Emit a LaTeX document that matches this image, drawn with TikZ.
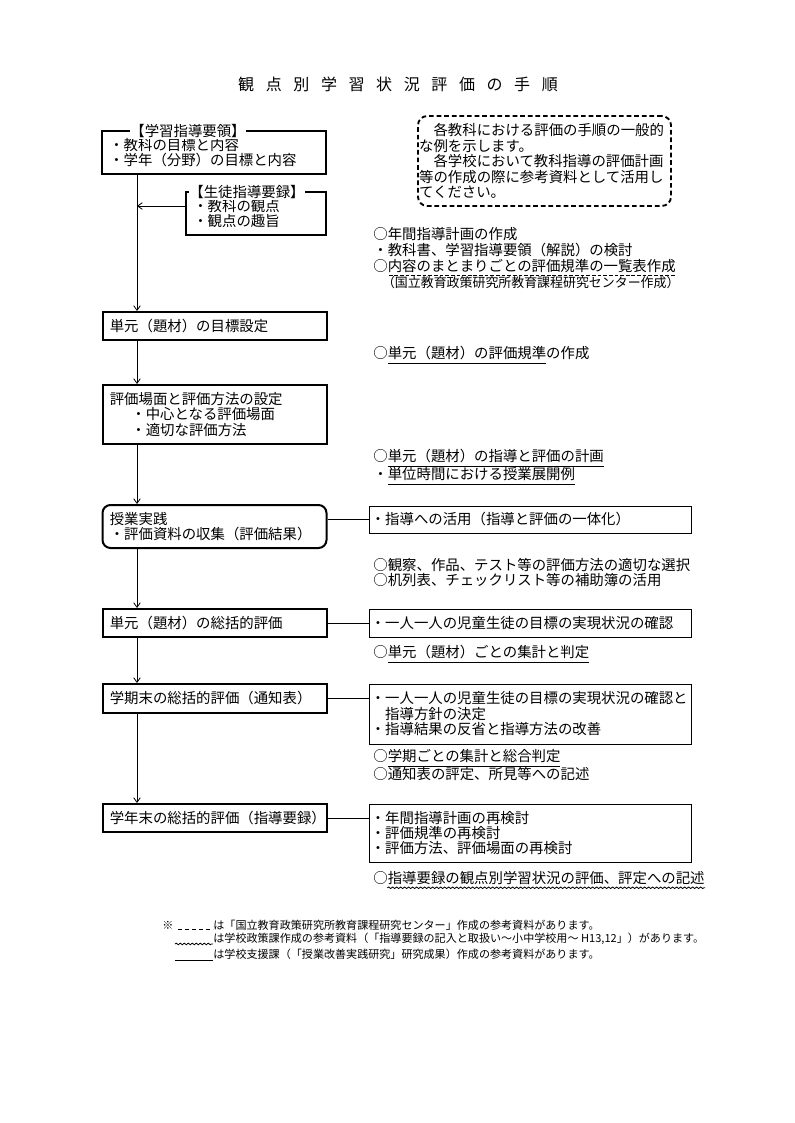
\documentclass[tikz,border=0pt]{standalone}
\usepackage{fontspec}
\setmainfont{Noto Sans CJK JP}
\usetikzlibrary{arrows.meta,decorations.pathmorphing}
\newcommand{\tsp}{\hspace{8.7pt}}
\newsavebox{\ubox}
\newcommand{\lineunder}[1]{\sbox\ubox{#1}\rlap{\raisebox{-3.4pt}{\rule{\wd\ubox}{0.6pt}}}\usebox\ubox}
\newcommand{\dashunder}[1]{\sbox\ubox{#1}\rlap{\raisebox{-3.4pt}{\hbox to \wd\ubox{\xleaders\hbox to 4.2pt{\hss\vrule width 2.8pt height 0.6pt depth 0pt\hss}\hfill}}}\usebox\ubox}
\tikzset{
	stepbox/.style={draw,line width=1.5pt,minimum width=168pt,text width=157pt,inner xsep=5.5pt,align=left},
	notebox/.style={draw,line width=0.7pt,text width=239.5pt,inner xsep=1pt,align=left},
	guidebox/.style={draw,line width=1.4pt,dash pattern=on 3.5pt off 2.2pt,rounded corners=7pt,text width=188pt,inner xsep=0.9pt,align=left},
	boxtitle/.style={fill=white,inner xsep=0pt,inner ysep=1pt},
	memo/.style={anchor=west,inner sep=0pt,align=left,font=\fontsize{10.8pt}{11.8pt}\selectfont},
	footline/.style={anchor=west,inner sep=0pt,font=\fontsize{8.3pt}{10pt}\selectfont},
	wave/.style={decorate,decoration={snake,amplitude=0.6pt,segment length=3pt}}
}
\begin{document}
\begin{tikzpicture}[x=0.75pt,y=-0.75pt,line width=0.6pt,font=\fontsize{10.8pt}{11.6pt}\selectfont,>={Straight Barb[length=3.5pt,width=5pt]}]
	\fill[color=white] (0,0) rectangle (794,1123);
	\node (title) at (398,84) {\fontsize{12pt}{14pt}\selectfont 観\tsp 点\tsp 別\tsp 学\tsp 習\tsp 状\tsp 況\tsp 評\tsp 価\tsp の\tsp 手\tsp 順};
	% left column
	\node[stepbox,minimum height=32.25pt] (aims) at (214,152.5) {・教科の目標と内容\\・学年（分野）の目標と内容};
	\node[boxtitle] (aimstitle) at (188,131) {【学習指導要領】};
	\node[stepbox,minimum width=105pt,text width=94pt,minimum height=32.25pt] (record) at (256,213.5) {・教科の観点\\・観点の趣旨};
	\node[boxtitle] (recordtitle) at (247,192) {【生徒指導要録】};
	\node[stepbox,minimum height=21pt] (unitgoal) at (214.5,326) {単元（題材）の目標設定};
	\node[stepbox,minimum height=44.25pt] (method) at (214.5,414.5) {評価場面と評価方法の設定\\\hspace*{1.5em}・中心となる評価場面\\\hspace*{1.5em}・適切な評価方法};
	\node[stepbox,rounded corners=6pt,minimum height=32.25pt] (lesson) at (214.5,526.5) {授業実践\\・評価資料の収集（評価結果）};
	\node[stepbox,minimum height=21pt] (unitsum) at (214.5,623) {単元（題材）の総括的評価};
	\node[stepbox,minimum height=21.75pt] (termsum) at (214.5,698.5) {学期末の総括的評価（通知表）};
	\node[stepbox,minimum height=21pt] (yearsum) at (214.5,818) {学年末の総括的評価（指導要録）};
	\coordinate (trunk) at (137,0);
	\coordinate (recordjoin) at ([yshift=5.6pt]record.west);
	% right column
	\node[guidebox,minimum height=67.5pt] (guide) at (544.5,161) {　各教科における評価の手順の一般的\\な例を示します。\\　各学校において教科指導の評価計画\\等の作成の際に参考資料として活用し\\てください。};
	\node[memo] (plan) at (373,258) {○年間指導計画の作成\\・教科書、学習指導要領（解説）の検討\\○\dashunder{内容のまとまりごとの評価規準の一覧表作成}\\\hspace*{0.6em}{\fontsize{9.7pt}{11.8pt}\selectfont（国立教育政策研究所教育課程研究センター作成）}};
	\node[memo] (criteria) at (373,355) {○\lineunder{単元（題材）の評価規準}の作成};
	\node[memo] (lessonplan) at (373,467) {○\lineunder{単元（題材）の指導と評価の計画}\\・\lineunder{単位時間における授業展開例}};
	\node[notebox,minimum height=20.25pt] (lessonnote) at (530.5,519.5) {・指導への活用（指導と評価の一体化）};
	\node[memo] (tools) at (373,572.5) {○観察、作品、テスト等の評価方法の適切な選択\\○机列表、チェックリスト等の補助簿の活用};
	\node[notebox,minimum height=21pt] (unitnote) at (530.5,623.5) {・一人一人の児童生徒の目標の実現状況の確認};
	\node[memo] (unittally) at (373,654) {○\lineunder{単元（題材）ごとの集計と判定}};
	\node[notebox,minimum height=45pt] (termnote) at (530.5,714) {・一人一人の児童生徒の目標の実現状況の確認と\\\hspace*{1em}指導方針の決定\\・指導結果の反省と指導方法の改善};
	\node[memo] (termtally) at (373,765.5) {○\lineunder{学期ごとの集計と総合判定}\\○通知表の評定、所見等への記述};
	\node[notebox,minimum height=43.5pt] (yearnote) at (530.5,833) {・年間指導計画の再検討\\・評価規準の再検討\\・評価方法、評価場面の再検討};
	\node[memo] (yeartally) at (373,878) {○指導要録の観点別学習状況の評価、評定への記述};
	\draw[wave] ([xshift=10.8pt,yshift=-2pt]yeartally.south west) -- ([yshift=-2pt]yeartally.south east);
	% footnotes
	\node[footline] (fnmark) at (162,925) {※};
	\node[footline] (fnA) at (213,925) {は「国立教育政策研究所教育課程研究センター」作成の参考資料があります。};
	\node[footline] (fnB) at (213,939) {は学校政策課作成の参考資料（「指導要録の記入と取扱い～小中学校用～ H13,12」）があります。};
	\node[footline] (fnC) at (213,954) {は学校支援課（「授業改善実践研究」研究成果）作成の参考資料があります。};
	\draw[dash pattern=on 3pt off 2.2pt] ([xshift=-26pt,yshift=-3pt]fnA.west) -- ([yshift=-3pt]fnA.west);
	\draw[wave] ([xshift=-28.5pt,yshift=-3.7pt]fnB.west) -- ([yshift=-3.7pt]fnB.west);
	\draw ([xshift=-28.5pt,yshift=-5pt]fnC.west) -- ([yshift=-5pt]fnC.west);
	% connectors
	\draw[->] (aims.south -| trunk) -- (unitgoal.north -| trunk);
	\draw[->] (recordjoin) -- (recordjoin -| trunk);
	\foreach \a/\b in {unitgoal/method,method/lesson,lesson/unitsum,unitsum/termsum,termsum/yearsum}
		\draw[->] (\a.south -| trunk) -- (\b.north -| trunk);
	\draw (lessonnote.west -| lesson.east) -- (lessonnote.west);
	\draw (unitsum.east) -- (unitsum.east -| unitnote.west);
	\draw (termsum.east) -- (termsum.east -| termnote.west);
	\draw (yearsum.east) -- (yearsum.east -| yearnote.west);
\end{tikzpicture}
\end{document}
